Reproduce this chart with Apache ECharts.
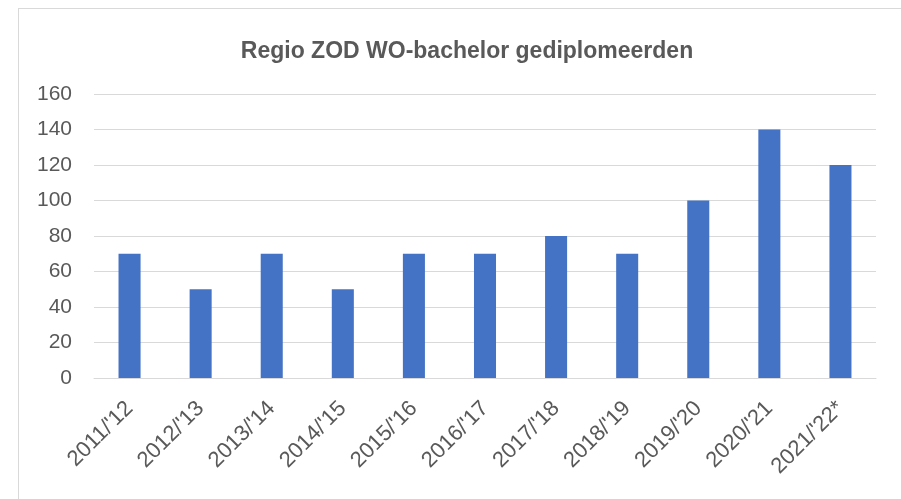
<!DOCTYPE html>
<html>
<head>
<meta charset="utf-8">
<script src="https://cdn.jsdelivr.net/npm/echarts@6/dist/echarts.min.js"></script>
<style>
html,body{margin:0;padding:0;background:#fff;}
#frame{position:absolute;left:18px;top:8px;width:900px;height:500px;border-left:1px solid #d9d9d9;border-top:1px solid #d9d9d9;}
#c{position:absolute;left:0;top:0;width:901px;height:499px;}
</style>
</head>
<body>
<div id="frame"></div>
<div id="c"></div>
<script>
const titleText = "Regio ZOD WO-bachelor gediplomeerden";
const categories = ["2011/'12","2012/'13","2013/'14","2014/'15","2015/'16","2016/'17","2017/'18","2018/'19","2019/'20","2020/'21","2021/'22*"];
const values = [70,50,70,50,70,70,80,70,100,140,120];
const yTicks = {min:0, max:160, interval:20};

const chart = echarts.init(document.getElementById('c'), null, {renderer:'canvas'});
chart.setOption({
  backgroundColor:'transparent',
  animation:false,
  title:{
    text:titleText, left:462, top:47, textAlign:'center', textVerticalAlign:'middle',
    textStyle:{fontFamily:'Liberation Sans', fontWeight:'bold', fontSize:23, color:'#595959'}
  },
  grid:{left:94, right:25, top:94, bottom:121, containLabel:false},
  xAxis:{
    type:'category', data:categories,
    axisLine:{show:true, lineStyle:{color:'#d9d9d9', width:1}},
    axisTick:{show:false},
    axisLabel:{rotate:45, margin:27, interval:0, fontFamily:'Liberation Sans', fontSize:22, color:'#595959'}
  },
  yAxis:{
    type:'value', min:yTicks.min, max:yTicks.max, interval:yTicks.interval,
    axisLine:{show:false}, axisTick:{show:false},
    splitLine:{lineStyle:{color:'#d9d9d9', width:1}},
    axisLabel:{margin:22, fontFamily:'Liberation Sans', fontSize:21, color:'#595959'}
  },
  series:[{
    type:'bar', data:values, barWidth:'31%',
    itemStyle:{color:'#4472C4'}
  }]
});
</script>
</body>
</html>
